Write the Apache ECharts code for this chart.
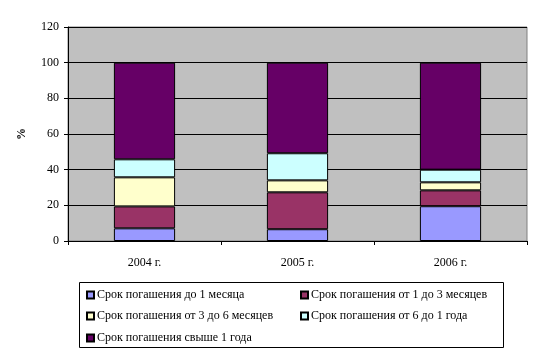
<!DOCTYPE html>
<html><head><meta charset="utf-8">
<script src="https://cdn.jsdelivr.net/npm/echarts@6/dist/echarts.min.js"></script>
<style>html,body{margin:0;padding:0;background:#fff}#c{width:544px;height:359px}</style>
</head><body><div id="c"></div>
<script>
var categories = ['2004 г.', '2005 г.', '2006 г.'];
var seriesNames = ['Срок погашения до 1 месяца', 'Срок погашения от 1 до 3 месяцев', 'Срок погашения от 3 до 6 месяцев', 'Срок погашения от 6 до 1 года', 'Срок погашения свыше 1 года'];
var s1 = [7.1, 6.6, 19.5];
var s2 = [12.3, 20.7, 8.9];
var s3 = [16.3, 6.7, 4.5];
var s4 = [10.1, 15.2, 7.1];
var s5 = [54.2, 50.8, 60.0];
var yTicks = [0, 20, 40, 60, 80, 100, 120];
var colors = ['#9999FF', '#993366', '#FFFFCC', '#CCFFFF', '#660066'];

var font = '"Liberation Serif", "Times New Roman", serif';
var chart = echarts.init(document.getElementById('c'));
var data = [s1, s2, s3, s4, s5];
var series = data.map(function (d, i) {
  return {
    name: seriesNames[i], type: 'bar', stack: 'a', data: d, barWidth: '40%',
    itemStyle: { color: colors[i], borderColor: '#000', borderWidth: 1 },
    emphasis: { disabled: true }
  };
});
var legendPos = [[86, 289], [300, 289], [86, 310], [300, 310], [86, 332]];
var legends = seriesNames.map(function (n, i) {
  return {
    data: [n], left: legendPos[i][0], top: legendPos[i][1], padding: 0,
    itemWidth: 7, itemHeight: 7, itemGap: 0, icon: 'rect', selectedMode: false,
    textStyle: { fontFamily: font, fontSize: 12, color: '#000', padding: [0, 0, 0, -2] }
  };
});
chart.setOption({
  animation: false,
  color: colors,
  graphic: [{ type: 'rect', shape: { x: 79.5, y: 282.5, width: 424, height: 65 }, style: { fill: 'none', stroke: '#000', lineWidth: 1 } }],
  legend: legends,
  grid: { left: 68, top: 27, width: 459, height: 214, show: true, backgroundColor: '#C0C0C0', borderColor: '#808080', borderWidth: 1 },
  xAxis: {
    type: 'category', data: categories,
    axisLine: { lineStyle: { color: '#000', width: 1 } },
    axisTick: { show: true, length: 4, lineStyle: { color: '#000' } },
    axisLabel: { margin: 16, fontFamily: font, fontSize: 12, color: '#000' }
  },
  yAxis: {
    type: 'value', min: 0, max: 120, interval: 20,
    name: '%', nameLocation: 'middle', nameRotate: 90, nameGap: 40,
    nameTextStyle: { fontFamily: font, fontSize: 12, color: '#000', fontWeight: 'bold' },
    axisLine: { show: true, lineStyle: { color: '#000', width: 1 } },
    axisTick: { show: true, length: 4, lineStyle: { color: '#000' } },
    splitLine: { show: true, lineStyle: { color: '#000', width: 1 } },
    axisLabel: { margin: 9, fontFamily: font, fontSize: 12, color: '#000',
      formatter: function (v) { return yTicks.indexOf(v) >= 0 ? String(v) : ''; } }
  },
  series: series
});
</script></body></html>
